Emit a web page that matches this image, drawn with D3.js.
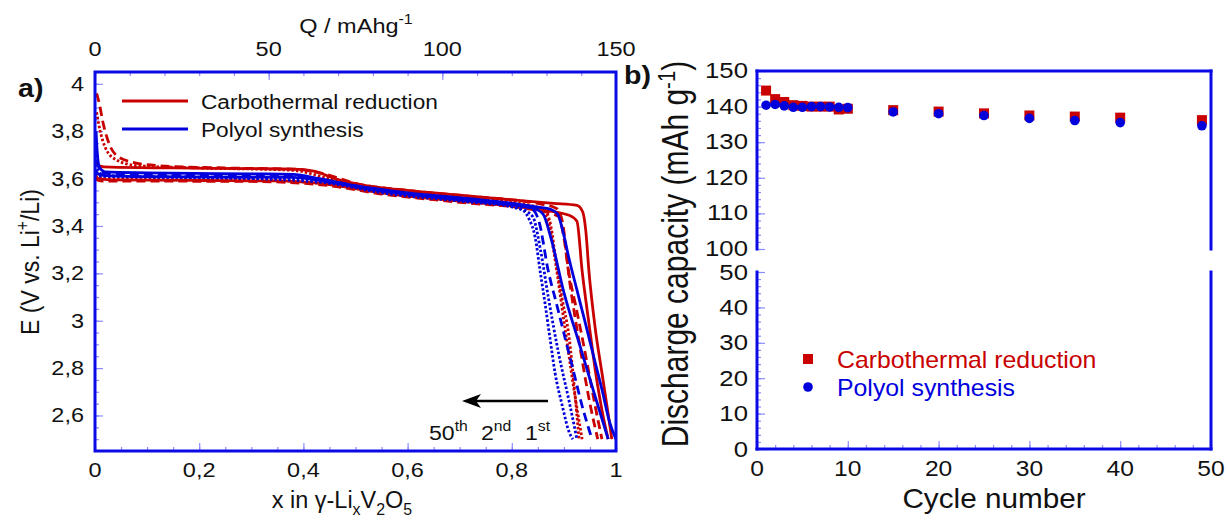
<!DOCTYPE html>
<html><head><meta charset="utf-8">
<script src="https://cdn.jsdelivr.net/npm/d3@7"></script>
<style>body{margin:0;background:#fff}svg{display:block}text{font-family:"Liberation Sans",Arial,sans-serif}</style>
</head><body>
<svg id="c" width="1227" height="520"></svg>
<script>
// ---------- DATA ----------
// Panel a: discharge curves, [x in Li_xV2O5, E (V)]
const redSolid1 = [[0.000,3.68],[0.005,3.655],[0.03,3.648],[0.15,3.645],[0.30,3.642],[0.38,3.64],[0.42,3.632],[0.46,3.60],[0.52,3.57],[0.60,3.55],[0.70,3.53],[0.80,3.51],[0.88,3.495],[0.925,3.487],[0.936,3.46],[0.942,3.38],[0.948,3.21],[0.96,2.97],[0.973,2.78],[0.984,2.62],[0.992,2.50]];
const redSolid2 = [[0.000,3.62],[0.006,3.60],[0.03,3.595],[0.2,3.592],[0.35,3.59],[0.45,3.575],[0.55,3.54],[0.65,3.515],[0.75,3.495],[0.85,3.47],[0.91,3.445],[0.925,3.42],[0.935,3.21],[0.948,2.99],[0.961,2.78],[0.975,2.60],[0.985,2.50]];
const redDashed1 = [[0.003,3.96],[0.008,3.92],[0.015,3.84],[0.025,3.76],[0.04,3.70],[0.07,3.67],[0.12,3.655],[0.25,3.645],[0.38,3.64],[0.44,3.62],[0.50,3.58],[0.60,3.55],[0.72,3.525],[0.85,3.495],[0.885,3.475],[0.897,3.42],[0.909,3.21],[0.922,3.07],[0.935,2.93],[0.948,2.78],[0.96,2.64],[0.973,2.50]];
const redDashed2 = [[0.000,3.60],[0.01,3.59],[0.30,3.588],[0.45,3.57],[0.55,3.535],[0.70,3.50],[0.85,3.465],[0.89,3.44],[0.90,3.35],[0.912,3.15],[0.93,2.90],[0.95,2.65],[0.965,2.50]];
const redDotted1 = [[0.003,3.88],[0.01,3.80],[0.02,3.73],[0.04,3.68],[0.08,3.655],[0.20,3.645],[0.38,3.635],[0.45,3.60],[0.55,3.555],[0.70,3.52],[0.84,3.485],[0.865,3.46],[0.875,3.40],[0.883,3.28],[0.896,3.10],[0.91,2.93],[0.92,2.72],[0.929,2.50]];
const redDotted2 = [[0.000,3.61],[0.02,3.60],[0.30,3.595],[0.45,3.575],[0.55,3.54],[0.70,3.505],[0.85,3.47],[0.87,3.42],[0.88,3.30],[0.90,3.00],[0.92,2.70],[0.935,2.50]];
const blueSolid1 = [[0.002,3.80],[0.004,3.72],[0.008,3.65],[0.02,3.628],[0.10,3.624],[0.30,3.62],[0.38,3.618],[0.43,3.60],[0.50,3.57],[0.60,3.54],[0.72,3.515],[0.85,3.48],[0.875,3.47],[0.888,3.45],[0.90,3.36],[0.909,3.27],[0.925,3.13],[0.94,3.00],[0.957,2.85],[0.973,2.71],[0.988,2.57],[1.0,2.50]];
const blueSolid2 = [[0.000,3.64],[0.01,3.615],[0.10,3.608],[0.38,3.605],[0.45,3.585],[0.55,3.548],[0.70,3.51],[0.84,3.475],[0.86,3.45],[0.875,3.35],[0.90,3.12],[0.93,2.90],[0.96,2.68],[0.985,2.50]];
const blueDashed1 = [[0.002,3.74],[0.006,3.66],[0.015,3.625],[0.10,3.615],[0.30,3.612],[0.40,3.608],[0.45,3.59],[0.55,3.55],[0.70,3.515],[0.82,3.485],[0.84,3.47],[0.852,3.42],[0.87,3.21],[0.886,3.07],[0.902,2.93],[0.918,2.79],[0.935,2.64],[0.954,2.50]];
const blueDotted1 = [[0.002,3.70],[0.006,3.64],[0.015,3.615],[0.10,3.608],[0.30,3.605],[0.40,3.60],[0.45,3.585],[0.55,3.545],[0.70,3.51],[0.80,3.48],[0.822,3.465],[0.833,3.43],[0.845,3.35],[0.855,3.20],[0.864,3.07],[0.873,2.93],[0.883,2.78],[0.897,2.64],[0.91,2.53],[0.917,2.50]];
const blueDotted2 = [[0.000,3.62],[0.01,3.61],[0.30,3.60],[0.45,3.58],[0.55,3.54],[0.70,3.505],[0.81,3.478],[0.84,3.44],[0.855,3.30],[0.87,3.10],[0.89,2.86],[0.91,2.66],[0.925,2.50]];

const xTicksA = [0,0.2,0.4,0.6,0.8,1];
const xTickLabelsA = ["0","0,2","0,4","0,6","0,8","1"];
const yTicksA = [2.6,2.8,3,3.2,3.4,3.6,3.8,4];
const yTickLabelsA = ["2,6","2,8","3","3,2","3,4","3,6","3,8","4"];
const qTicksA = [0,50,100,150];

// Panel b: discharge capacity vs cycle
const cycles = [1,2,3,4,5,6,7,8,9,10,15,20,25,30,35,40,49];
const carbothermal = [144.5,142.1,141.3,140.4,140.2,140.0,140.0,140.0,139.2,139.4,139.0,138.6,138.1,137.5,137.2,136.9,136.2];
const polyol = [140.4,140.6,140.2,139.8,139.8,140.0,140.0,139.9,139.8,139.7,138.5,138.0,137.5,136.7,136.1,135.5,134.6];
const xTicksB = [0,10,20,30,40,50];
const yTicksBUpper = [100,110,120,130,140,150];
const yTicksBLower = [0,10,20,30,40,50];

// ---------- STYLE ----------
const RED = "#c80000", BLUE = "#0000dd", FRAME = "#0a0ae6", TICK = "#8c8cff";
const SX = 1.12; // horizontal glyph stretch of the original picture

const svg = d3.select("#c");

function txt(g, x, y, parts, o) {
  o = o || {};
  const size = o.size || 20;
  const t = g.append("text")
    .attr("transform", `translate(${x},${y}) scale(${o.sx||SX},1)` + (o.rot ? ` rotate(${o.rot})` : ""))
    .attr("text-anchor", o.anchor || "start")
    .attr("font-size", size)
    .attr("fill", o.fill || "#111");
  if (o.family) t.attr("font-family", o.family);
  if (o.weight) t.attr("font-weight", o.weight);
  if (typeof parts === "string") parts = [[parts, 0]];
  let prev = 0;
  parts.forEach(([s, sh]) => {
    const sp = t.append("tspan").text(s).attr("font-size", sh !== 0 ? size * 0.68 : size);
    if (sh !== prev) sp.attr("dy", sh - prev);
    prev = sh;
  });
  return t;
}

// ---------- PANEL A ----------
const xA = d3.scaleLinear().domain([0, 1]).range([95, 616]);
const qA = d3.scaleLinear().domain([0, 150]).range([95, 616]);
const yA = d3.scaleLinear().domain([2.45, 4.05]).range([451, 72]);

const gA = svg.append("g");
function ticks(g, axisFn, scale, vals, size, transl) {
  const ax = axisFn(scale).tickValues(vals).tickSize(size).tickFormat("");
  const a = g.append("g").attr("transform", transl).call(ax);
  a.select(".domain").remove();
  a.selectAll("text").remove();
  a.selectAll("line").attr("stroke", TICK).attr("stroke-width", 1.2);
}
ticks(gA, d3.axisBottom, xA, d3.range(0, 1.0001, 0.05), -4, `translate(0,451)`);
ticks(gA, d3.axisBottom, xA, xTicksA, -8, `translate(0,451)`);
ticks(gA, d3.axisTop, qA, d3.range(0, 150.1, 10), -4, `translate(0,72)`);
ticks(gA, d3.axisTop, qA, qTicksA, -8, `translate(0,72)`);
ticks(gA, d3.axisLeft, yA, d3.range(2.5, 4.051, 0.05), -4, `translate(95,0)`);
ticks(gA, d3.axisLeft, yA, yTicksA, -8, `translate(95,0)`);

const lineA = d3.line().x(d => xA(d[0])).y(d => yA(d[1])).curve(d3.curveMonotoneX);
svg.append("clipPath").attr("id", "clipA").append("rect")
  .attr("x", xA(0)).attr("y", yA(4.05)).attr("width", xA(1) - xA(0)).attr("height", yA(2.45) - yA(4.05));
const curves = [
  [redDotted2, RED, "2.5,2"], [redDotted1, RED, "2.5,2"],
  [redDashed2, RED, "9,5"], [redDashed1, RED, "9,5"],
  [redSolid2, RED, null], [redSolid1, RED, null],
  [blueDotted2, BLUE, "2.5,2"], [blueDotted1, BLUE, "2.5,2"],
  [blueDashed1, BLUE, "9,5"],
  [blueSolid2, BLUE, null], [blueSolid1, BLUE, null]
];
const gC = gA.append("g").attr("clip-path", "url(#clipA)");
curves.forEach(([data, col, dash]) => {
  gC.append("path").datum(data).attr("d", lineA).attr("fill", "none")
    .attr("stroke", col).attr("stroke-width", 2.8)
    .attr("stroke-dasharray", dash);
});

gA.append("rect").attr("x", xA(0)).attr("y", yA(4.05)).attr("width", xA(1) - xA(0)).attr("height", yA(2.45) - yA(4.05))
  .attr("fill", "none").attr("stroke", FRAME).attr("stroke-width", 3);

// tick labels
xTicksA.forEach((v, i) => txt(gA, xA(v), 477, xTickLabelsA[i], {anchor: "middle", size: 21}));
qTicksA.forEach(v => txt(gA, qA(v), 56, String(v), {anchor: "middle", size: 21}));
yTicksA.forEach((v, i) => txt(gA, 84, yA(v) + 7, yTickLabelsA[i], {anchor: "end", size: 21}));

// axis titles
txt(gA, 356, 33, [["Q / mAhg", 0], ["-1", -9]], {anchor: "middle", size: 21});
txt(gA, 342, 508, [["x in \u03b3-Li", 0], ["x", 7], ["V", 0], ["2", 7], ["O", 0], ["5", 7]], {anchor: "middle", size: 23, sx: 1.02});
txt(gA, 39, 262, [["E (V vs. Li", 0], ["+", -9], ["/Li)", 0]], {anchor: "middle", size: 23, rot: -90, sx: 1.15});
txt(gA, 18, 97, "a)", {size: 26, weight: "bold", family: "Liberation Serif, serif", sx: 1.1});

// legend
gA.append("line").attr("x1", 122).attr("x2", 188).attr("y1", 101).attr("y2", 101).attr("stroke", RED).attr("stroke-width", 2.8);
gA.append("line").attr("x1", 122).attr("x2", 188).attr("y1", 129).attr("y2", 129).attr("stroke", BLUE).attr("stroke-width", 2.8);
txt(gA, 201, 108.5, "Carbothermal reduction", {size: 21, sx: 1.08});
txt(gA, 201, 136.5, "Polyol synthesis", {size: 21, sx: 1.08});

// arrow & cycle labels
gA.append("line").attr("x1", 548).attr("x2", 476).attr("y1", 401).attr("y2", 401).attr("stroke", "#000").attr("stroke-width", 2.5);
gA.append("path").attr("d", "M462,401 L481,394 L476,401 L481,408 Z").attr("fill", "#000");
txt(gA, 429, 440, [["50", 0], ["th", -9]], {size: 21, sx: 1.1});
txt(gA, 481, 440, [["2", 0], ["nd", -9]], {size: 21, sx: 1.1});
txt(gA, 525, 440, [["1", 0], ["st", -9]], {size: 21, sx: 1.1});

// ---------- PANEL B ----------
const xB = d3.scaleLinear().domain([0, 50]).range([757, 1211]);
const yBu = d3.scaleLinear().domain([100, 150]).range([249, 71]);
const yBl = d3.scaleLinear().domain([0, 50]).range([449, 272]);
const gB = svg.append("g");

ticks(gB, d3.axisBottom, xB, d3.range(0, 50.1, 2), -4, `translate(0,449)`);
ticks(gB, d3.axisBottom, xB, xTicksB, -8, `translate(0,449)`);
ticks(gB, d3.axisLeft, yBu, d3.range(100, 150.1, 2), -4, `translate(757,0)`);
ticks(gB, d3.axisLeft, yBu, yTicksBUpper, -8, `translate(757,0)`);
ticks(gB, d3.axisLeft, yBl, d3.range(0, 50.1, 2), -4, `translate(757,0)`);
ticks(gB, d3.axisLeft, yBl, yTicksBLower, -8, `translate(757,0)`);

const fr = (x1, y1, x2, y2) => gB.append("line").attr("x1", x1).attr("y1", y1).attr("x2", x2).attr("y2", y2)
  .attr("stroke", FRAME).attr("stroke-width", 3).attr("stroke-linecap", "square");
fr(xB(0), yBu(150), xB(50), yBu(150));
fr(xB(0), yBl(0), xB(50), yBl(0));
fr(xB(0), yBu(150), xB(0), yBu(100));
fr(xB(0), yBl(50), xB(0), yBl(0));
fr(xB(50), yBu(150), xB(50), yBu(100));
fr(xB(50), yBl(50), xB(50), yBl(0));

cycles.forEach((c, i) => {
  gB.append("rect").attr("x", xB(c) - 5).attr("y", yBu(carbothermal[i]) - 5).attr("width", 10).attr("height", 10).attr("fill", RED);
});
cycles.forEach((c, i) => {
  gB.append("circle").attr("cx", xB(c)).attr("cy", yBu(polyol[i])).attr("r", 4.8).attr("fill", BLUE);
});

xTicksB.forEach(v => txt(gB, xB(v), 476, String(v), {anchor: "middle", size: 22}));
yTicksBUpper.forEach(v => txt(gB, 748, yBu(v) + 7, String(v), {anchor: "end", size: 23}));
yTicksBLower.forEach(v => txt(gB, 748, yBl(v) + 7.5, String(v), {anchor: "end", size: 23}));

txt(gB, 994, 508, "Cycle number", {anchor: "middle", size: 27, sx: 1.1});
txt(gB, 688, 254, [["Discharge capacity (mAh g", 0], ["-1", -11], [")", 0]], {anchor: "middle", size: 30, rot: -90, sx: 1.2});
txt(gB, 624, 84, "b)", {size: 26, weight: "bold", family: "Liberation Serif, serif", sx: 1.1});

// legend b
gB.append("rect").attr("x", 803).attr("y", 354).attr("width", 10).attr("height", 10).attr("fill", RED);
gB.append("circle").attr("cx", 808).attr("cy", 387).attr("r", 4.8).attr("fill", BLUE);
txt(gB, 837, 368, "Carbothermal reduction", {size: 23, fill: RED, sx: 1.08});
txt(gB, 837, 396, "Polyol synthesis", {size: 23, fill: BLUE, sx: 1.08});
</script>
</body></html>
